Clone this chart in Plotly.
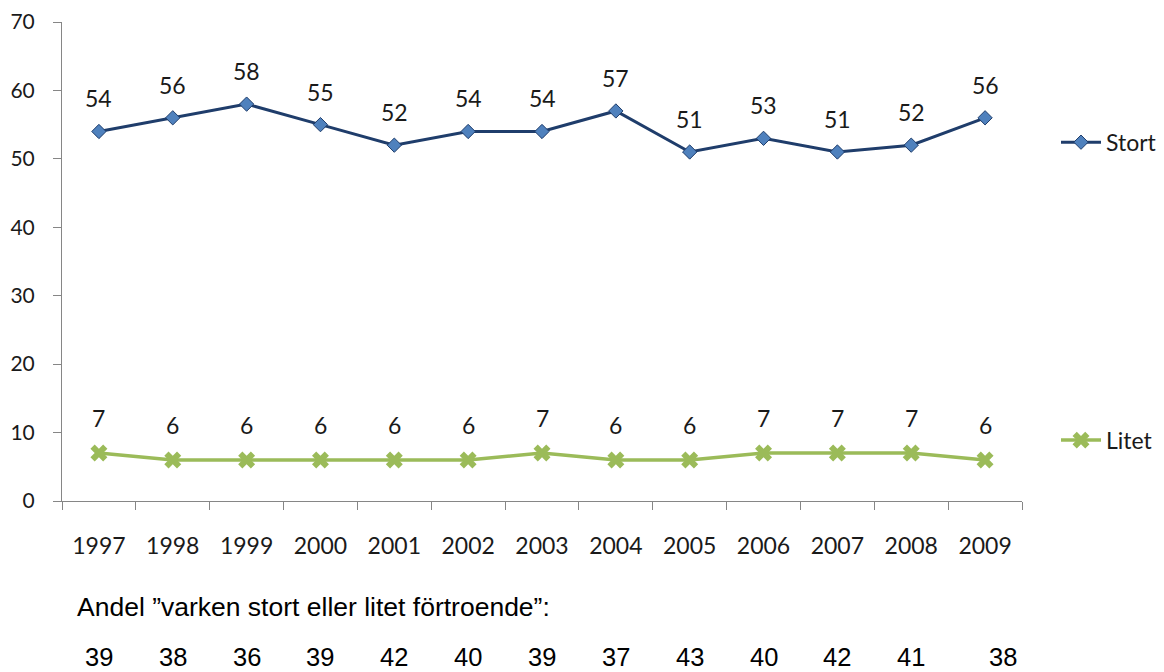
import plotly.graph_objects as go

years = ["1997", "1998", "1999", "2000", "2001", "2002", "2003", "2004", "2005", "2006", "2007", "2008", "2009"]
stort = [54, 56, 58, 55, 52, 54, 54, 57, 51, 53, 51, 52, 56]
litet = [7, 6, 6, 6, 6, 6, 7, 6, 6, 7, 7, 7, 6]
varken = [39, 38, 36, 39, 42, 40, 39, 37, 43, 40, 42, 41, 38]
y_ticks = [0, 10, 20, 30, 40, 50, 60, 70]

STORT_LINE = "#1F3D6B"
STORT_MARK = "#4F81BD"
LITET = "#9BBB59"
LABEL_FONT = "Lato"
TEXT_COL = "#1a1a1a"

W, H = 1164, 672
L, T, B = 62, 22, 171
PLOT_W = 960
PAPER_W = W - L
DOM = PLOT_W / PAPER_W

fig = go.Figure()
fig.add_trace(go.Scatter(
    x=years, y=stort, name="Stort", mode="lines+markers",
    line=dict(color=STORT_LINE, width=3),
    marker=dict(symbol="diamond", size=11, color=STORT_MARK, line=dict(color=STORT_LINE, width=1)),
    legend="legend",
))
fig.add_trace(go.Scatter(
    x=years, y=litet, name="Litet", mode="lines+markers",
    line=dict(color=LITET, width=3.5),
    marker=dict(symbol="x", size=15, color=LITET, line=dict(width=0)),
    legend="legend2",
))

annotations = []
for i, v in enumerate(stort):
    annotations.append(dict(x=i, y=v, xref="x", yref="y", text=str(v), showarrow=False,
                            yshift=33, font=dict(family=LABEL_FONT, size=23, color=TEXT_COL)))
for i, v in enumerate(litet):
    annotations.append(dict(x=i, y=v, xref="x", yref="y", text=str(v), showarrow=False,
                            yshift=35, font=dict(family=LABEL_FONT, size=23, color=TEXT_COL)))
for i, v in enumerate(varken):
    annotations.append(dict(x=i, y=-0.326, xref="x", yref="paper", yanchor="middle",
                            text=str(v), showarrow=False,
                            xshift=(18 if i == len(varken) - 1 else 0),
                            font=dict(family="Liberation Sans, Arial", size=25.5, color="#000")))
annotations.append(dict(x=(75 - L) / PAPER_W, y=-0.221, xref="paper", yref="paper",
                        xanchor="left", yanchor="middle",
                        text="Andel \u201dvarken stort eller litet förtroende\u201d:", showarrow=False,
                        font=dict(family="Liberation Sans, Arial", size=26.5, color="#000")))

legend_x = (1056 - L) / PAPER_W

fig.update_layout(
    width=W, height=H,
    margin=dict(l=L, r=0, t=T, b=B),
    paper_bgcolor="white", plot_bgcolor="white",
    annotations=annotations,
    showlegend=True,
    legend=dict(x=legend_x, y=0.749, xanchor="left", yanchor="middle", bgcolor="rgba(0,0,0,0)",
                font=dict(family=LABEL_FONT, size=23, color=TEXT_COL), itemwidth=40,
                borderwidth=0),
    legend2=dict(x=legend_x, y=0.127, xanchor="left", yanchor="middle", bgcolor="rgba(0,0,0,0)",
                 font=dict(family=LABEL_FONT, size=23, color=TEXT_COL), itemwidth=40,
                 borderwidth=0),
    xaxis=dict(
        domain=[0, DOM],
        type="category", range=[-0.5, len(years) - 0.5], autorange=False,
        showgrid=False, showline=True, linecolor="#868686", linewidth=1,
        ticks="outside", tickson="boundaries", ticklen=8, tickcolor="#868686",
        tickfont=dict(family=LABEL_FONT, size=23, color=TEXT_COL), tickangle=0,
        ticklabelstandoff=24,
    ),
    yaxis=dict(
        range=[0, 70], tickvals=y_ticks, showgrid=False, showline=True, linecolor="#868686",
        linewidth=1, ticks="outside", ticklen=8, tickcolor="#868686",
        tickfont=dict(family=LABEL_FONT, size=21, color=TEXT_COL), zeroline=False,
        ticklabelstandoff=14, ticklabeloverflow="allow",
    ),
)

fig.write_html("out.html", config={"displayModeBar": False},
               post_script="document.body.style.margin='0';")
